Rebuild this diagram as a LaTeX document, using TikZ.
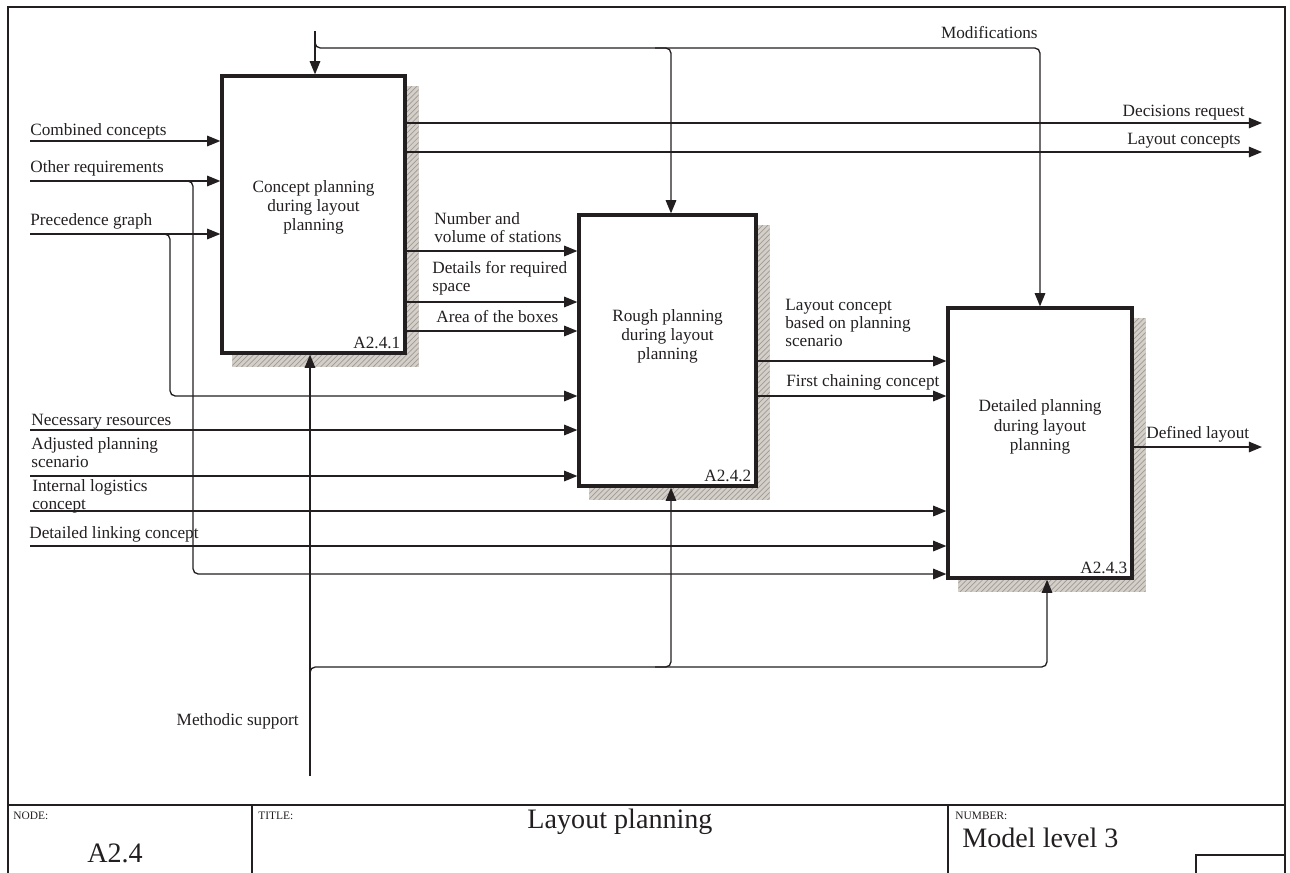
\documentclass[tikz,border=0pt]{standalone}
\usepackage{fontspec}
\setmainfont{Liberation Serif}
\usetikzlibrary{arrows.meta,calc,backgrounds,patterns}
\definecolor{ink}{RGB}{35,31,32}
\definecolor{shadowbase}{RGB}{212,207,201}
\definecolor{shadowline}{RGB}{160,154,148}
\begin{document}
\begin{tikzpicture}[x=0.02cm,y=-0.02cm,
  act/.style={draw=ink,line width=1.9pt,fill=white,inner sep=0pt},
  acttext/.style={inner sep=0pt,text=ink,align=center,font=\fontsize{9.8}{11}\selectfont},
  actid/.style={inner sep=0pt,text=ink,anchor=base east,font=\fontsize{9.8}{11}\selectfont},
  flow/.style={draw=ink,line width=0.75pt,-{Triangle[length=7.5pt,width=6pt]}},
  bendflow/.style={flow,rounded corners=3pt},
  lbl/.style={inner sep=0pt,text=ink,align=left,font=\fontsize{9.8}{10.2}\selectfont},
  frame/.style={draw=ink,line width=0.6pt},
  tiny/.style={inner sep=0pt,text=ink,anchor=base west,font=\fontsize{6.5}{7}\selectfont},
  big/.style={inner sep=0pt,text=ink,font=\fontsize{16}{18}\selectfont},
  shade/.style={fill=shadowbase,postaction={pattern=north east lines,pattern color=shadowline}}
]
\useasboundingbox (0,0) rectangle (1290,872);
\clip (0,0) rectangle (1290,872);

% drawing frame and title block
\draw[frame] (8,7) rectangle (1285,900);
\draw[frame] (8,805) -- (1285,805);
\draw[frame] (252,805) -- (252,900);
\draw[frame] (948,805) -- (948,900);
\draw[frame] (1196,900) |- (1285,855);
\node[tiny] (tnode) at (13,819) {NODE:};
\node[tiny] (ttitle) at (258,819) {TITLE:};
\node[tiny] (tnum) at (955,819) {NUMBER:};
\node[big] (tnodeval) at (115,853) {A2.4};
\node[big] (ttitleval) at (620,822) {Layout planning};
\node[big,anchor=west] (tnumval) at (962,838) {Model level 3};

% activity boxes
\node[act,minimum width=3.66cm,minimum height=5.54cm] (b1) at (313.5,214.5) {};
\node[act,minimum width=3.54cm,minimum height=5.42cm] (b2) at (667.5,350.5) {};
\node[act,minimum width=3.68cm,minimum height=5.40cm] (b3) at (1040,443) {};
\begin{scope}[on background layer]
  \foreach \b in {b1,b2,b3}
    \path[shade] ($(\b.south west)+(12,12)$) rectangle ($(\b.north east)+(12,12)$);
\end{scope}
\node[acttext] (b1t) at ($(b1.center)+(0,-7)$) {Concept planning\\during layout\\planning};
\node[acttext] (b2t) at ($(b2.center)+(0,-14)$) {Rough planning\\during layout\\planning};
\node[acttext] (b3t) at ($(b3.center)+(0,-16)$) {Detailed planning\\during layout\\planning};
\node[actid] (b1id) at ($(b1.south east)+(-6,-6)$) {A2.4.1};
\node[actid] (b2id) at ($(b2.south east)+(-6,-6)$) {A2.4.2};
\node[actid] (b3id) at ($(b3.south east)+(-6,-6)$) {A2.4.3};

% free ends of the connectors
\coordinate (inCC) at (30,141);
\coordinate (inOR) at (30,181);
\coordinate (inPG) at (30,234);
\coordinate (inNR) at (30,430);
\coordinate (inAP) at (30,476);
\coordinate (inIL) at (30,511);
\coordinate (inDL) at (30,546);
\coordinate (ctlTop) at (315,31);
\coordinate (mechBot) at (310,776);
\coordinate (outDR) at (1262,123);
\coordinate (outLC) at (1262,152);
\coordinate (outDL) at (1262,447);

% inputs
\draw[flow] (inCC) -- (inCC -| b1.west);
\draw[flow] (inOR) -- (inOR -| b1.west);
\draw[flow] (inPG) -- (inPG -| b1.west);
\draw[bendflow] (inOR) -| (193,574) -- (b3.west |- 0,574);
\draw[bendflow] (inPG) -| (170,396) -- (b2.west |- 0,396);
\draw[flow] (inNR) -- (inNR -| b2.west);
\draw[flow] (inAP) -- (inAP -| b2.west);
\draw[flow] (inIL) -- (inIL -| b3.west);
\draw[flow] (inDL) -- (inDL -| b3.west);

% flows between activities
\draw[flow] (b1.east |- 0,251) -- (b2.west |- 0,251);
\draw[flow] (b1.east |- 0,302) -- (b2.west |- 0,302);
\draw[flow] (b1.east |- 0,331) -- (b2.west |- 0,331);
\draw[flow] (b2.east |- 0,361) -- (b3.west |- 0,361);
\draw[flow] (b2.east |- 0,396) -- (b3.west |- 0,396);

% outputs
\draw[flow] (b1.east |- outDR) -- (outDR);
\draw[flow] (b1.east |- outLC) -- (outLC);
\draw[flow] (b3.east |- outDL) -- (outDL);

% controls
\draw[flow] (ctlTop) -- (ctlTop |- b1.north);
\draw[bendflow] (315,38) |- (1040,48) -- (b3.north -| 1040,0);
\draw[bendflow] (655,48) -| (b2.north -| 671,0);

% mechanisms
\draw[flow] (mechBot) -- (mechBot |- b1.south);
\draw[bendflow] (310,690) |- (1047,667) -- (b3.south -| 1047,0);
\draw[bendflow] (655,667) -| (b2.south -| 671,0);

% labels
\node[lbl,anchor=base west] (lCC) at (30,135) {Combined concepts};
\node[lbl,anchor=base west] (lOR) at (30,172) {Other requirements};
\node[lbl,anchor=base west] (lPG) at (30,225) {Precedence graph};
\node[lbl,anchor=base west] (lNR) at (31,425) {Necessary resources};
\node[lbl,anchor=north west] (lAP) at (31,437) {Adjusted planning\\scenario};
\node[lbl,anchor=north west] (lIL) at (32,479) {Internal logistics\\concept};
\node[lbl,anchor=base west] (lDL) at (29,538) {Detailed linking concept};
\node[lbl,anchor=north west] (lNV) at (434,212) {Number and\\volume of stations};
\node[lbl,anchor=north west] (lDS) at (432,261) {Details for required\\space};
\node[lbl,anchor=base west] (lAB) at (436,322) {Area of the boxes};
\node[lbl,anchor=north west] (lLB) at (785,299) {Layout concept\\based on planning\\scenario};
\node[lbl,anchor=base west] (lFC) at (786,386) {First chaining concept};
\node[lbl,anchor=base west] (lDF) at (1146,438) {Defined layout};
\node[lbl,anchor=base east] (lDR) at (1245,116) {Decisions request};
\node[lbl,anchor=base east] (lLC) at (1241,144) {Layout concepts};
\node[lbl,anchor=base east] (lMO) at (1038,38) {Modifications};
\node[lbl,anchor=base east] (lMS) at (299,725) {Methodic support};
\end{tikzpicture}
\end{document}
